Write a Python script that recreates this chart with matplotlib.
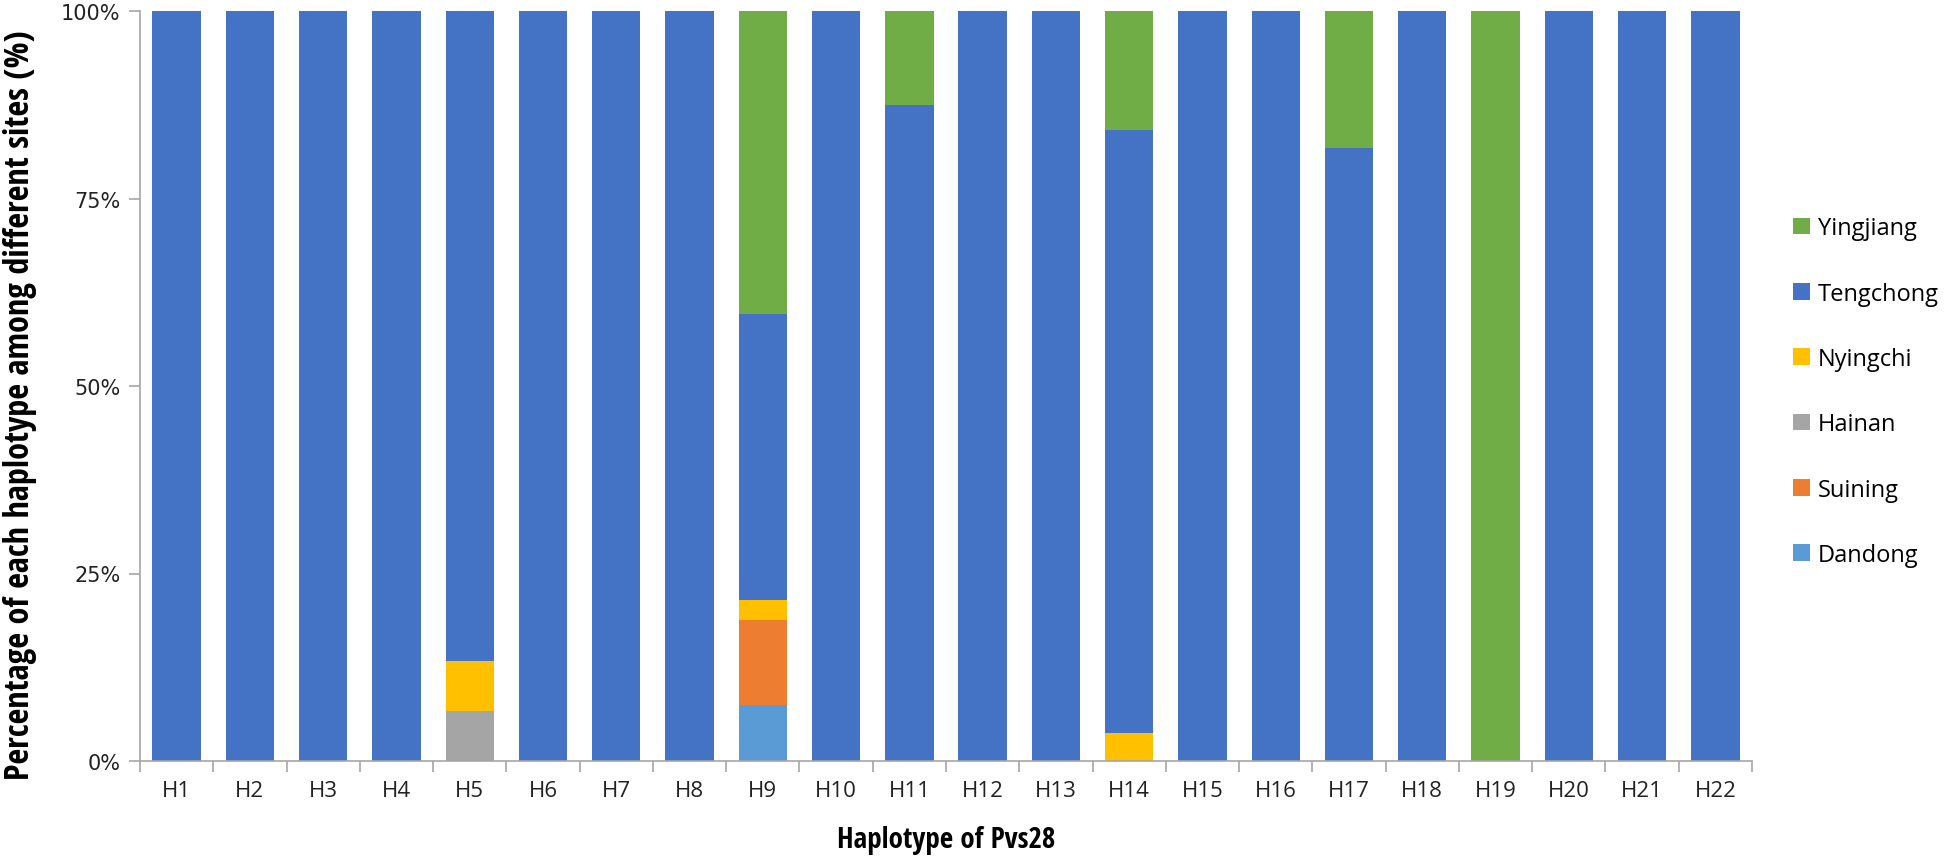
import matplotlib
matplotlib.use("Agg")
import matplotlib.pyplot as plt
from matplotlib import font_manager
from matplotlib.ticker import FixedLocator, NullFormatter
import numpy as np

haplotypes = ["H1", "H2", "H3", "H4", "H5", "H6", "H7", "H8", "H9", "H10", "H11",
              "H12", "H13", "H14", "H15", "H16", "H17", "H18", "H19", "H20", "H21", "H22"]

# percentages (stack order bottom -> top)
dandong   = [0, 0, 0, 0, 0,   0, 0, 0, 7.5,  0, 0,    0, 0, 0,    0, 0, 0,    0, 0,   0, 0, 0]
suining   = [0, 0, 0, 0, 0,   0, 0, 0, 11.3, 0, 0,    0, 0, 0,    0, 0, 0,    0, 0,   0, 0, 0]
hainan    = [0, 0, 0, 0, 6.7, 0, 0, 0, 0,    0, 0,    0, 0, 0,    0, 0, 0,    0, 0,   0, 0, 0]
nyingchi  = [0, 0, 0, 0, 6.6, 0, 0, 0, 2.7,  0, 0,    0, 0, 3.8,  0, 0, 0,    0, 0,   0, 0, 0]
tengchong = [100, 100, 100, 100, 86.7, 100, 100, 100, 38.1, 100, 87.5,
             100, 100, 80.4, 100, 100, 81.8, 100, 0, 100, 100, 100]
yingjiang = [0, 0, 0, 0, 0,   0, 0, 0, 40.4, 0, 12.5, 0, 0, 15.8, 0, 0, 18.2, 0, 100, 0, 0, 0]

series_names = ["Dandong", "Suining", "Hainan", "Nyingchi", "Tengchong", "Yingjiang"]
series_vals = [dandong, suining, hainan, nyingchi, tengchong, yingjiang]
colors = ["#5B9BD5", "#ED7D31", "#A5A5A5", "#FFC000", "#4472C4", "#70AD47"]

available = {f.name for f in font_manager.fontManager.ttflist}
narrow = None
for cand in ["Liberation Sans Narrow", "DejaVu Sans Condensed", "Open Sans Condensed", "Roboto Condensed"]:
    if cand in available:
        narrow = cand
        break
if narrow is None:
    narrow = "Open Sans"

fig = plt.figure(figsize=(19.6, 8.62), dpi=100)
ax = fig.add_axes([140/1960, 100/862, (1752-140)/1960, 750/862])

x = np.arange(len(haplotypes))
bottom = np.zeros(len(haplotypes))
handles = []
for name, vals, c in zip(series_names, series_vals, colors):
    v = np.array(vals, dtype=float)
    b = ax.bar(x, v, width=0.66, bottom=bottom, color=c, label=name, linewidth=0)
    handles.append(b)
    bottom += v

ax.set_xlim(-0.5, len(haplotypes) - 0.5)
ax.set_ylim(0, 100)
ax.set_yticks([0, 25, 50, 75, 100])
ax.set_yticklabels(["0%", "25%", "50%", "75%", "100%"], fontsize=15, family="DejaVu Sans", color="#222222")

ax.set_xticks(x)
ax.set_xticklabels(haplotypes, fontsize=16, family="Open Sans", color="#222222")
ax.xaxis.set_minor_locator(FixedLocator(np.arange(-0.5, len(haplotypes), 1.0)))
ax.xaxis.set_minor_formatter(NullFormatter())
ax.tick_params(axis="x", which="major", length=0, pad=14)
ax.tick_params(axis="x", which="minor", length=8, color="#A6A6A6", width=1.2)
ax.tick_params(axis="y", length=8, color="#A6A6A6", width=1.2, pad=6)

for s in ["top", "right"]:
    ax.spines[s].set_visible(False)
for s in ["left", "bottom"]:
    ax.spines[s].set_color("#A6A6A6")
    ax.spines[s].set_linewidth(1.2)

ax.set_xlabel("Haplotype of Pvs28", fontsize=21, fontweight="bold",
              family=narrow, labelpad=17)

# y label: fit its length to the plot height
ylab = fig.text(20/1960, 0.5 + 26/862, "Percentage of each haplotype among different sites (%)",
                rotation=90, ha="center", va="center", fontweight="bold",
                family=narrow, fontsize=18)
fig.canvas.draw()
renderer = fig.canvas.get_renderer()
h = ylab.get_window_extent(renderer).height
target = 752.0
ylab.set_fontsize(18 * target / h)

leg = fig.legend(handles[::-1], series_names[::-1], loc="upper left",
                 bbox_to_anchor=(1772/1960, 1 - 196/862), frameon=False,
                 prop={"family": "Open Sans", "size": 17},
                 handlelength=0.7, handleheight=0.7, handletextpad=0.35,
                 labelspacing=1.75)

fig.savefig("out.png", dpi=100)
